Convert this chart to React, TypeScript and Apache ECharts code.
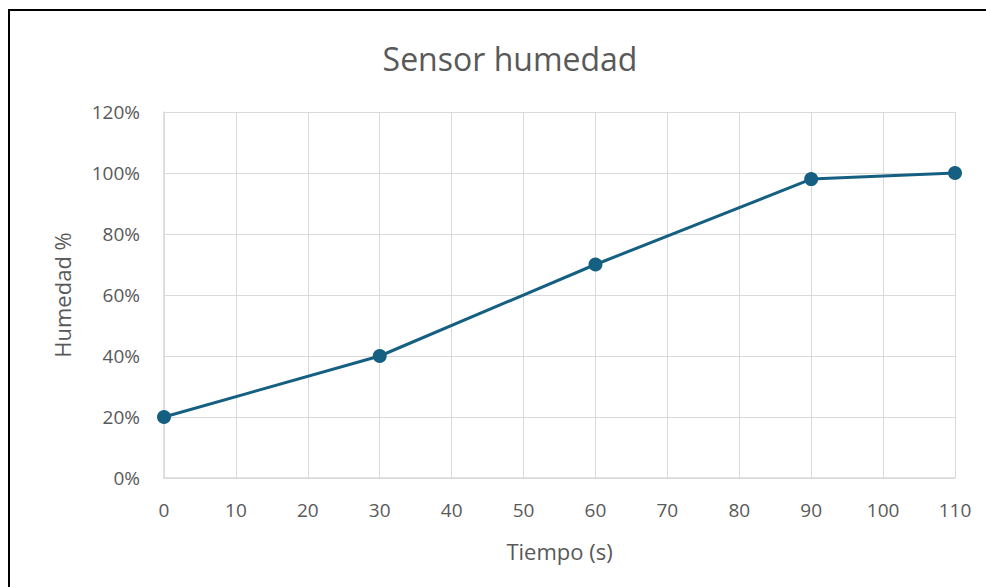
import React, { useEffect, useRef } from "react";
import * as echarts from "echarts";

const tiempo = [0, 30, 60, 90, 110];
const humedad = [20, 40, 70, 98, 100];
const xTicks = { min: 0, max: 110, interval: 10 };
const yTicks = { min: 0, max: 120, interval: 20 };

const FONT = "'Open Sans', 'Noto Sans', sans-serif";
const GREY = "#595959";

export default function App() {
  const ref = useRef<HTMLDivElement>(null);
  useEffect(() => {
    if (!ref.current) return;
    const chart = echarts.init(ref.current, undefined, { renderer: "svg" });
    chart.setOption({
      animation: false,
      backgroundColor: "#ffffff",
      title: {
        text: "Sensor humedad",
        left: 505,
        top: 37,
        textAlign: "center",
        textStyle: { fontFamily: FONT, fontSize: 32, fontWeight: "normal", color: GREY },
      },
      graphic: [
        {
          type: "rect",
          shape: { x: 9, y: 10, width: 1000, height: 600 },
          style: { fill: "none", stroke: "#000000", lineWidth: 2 },
          silent: true,
        },
      ],
      grid: { left: 164, right: 31, top: 112, bottom: 109, containLabel: false },
      xAxis: {
        type: "value",
        min: xTicks.min,
        max: xTicks.max,
        interval: xTicks.interval,
        name: "Tiempo (s)",
        nameLocation: "middle",
        nameGap: 62,
        nameTextStyle: { fontFamily: FONT, fontSize: 22, color: GREY },
        axisLine: { show: true, lineStyle: { color: "#d9d9d9", width: 1.5 } },
        axisTick: { show: false },
        axisLabel: { fontFamily: FONT, fontSize: 19, color: GREY, margin: 22 },
        splitLine: { show: true, lineStyle: { color: "#d9d9d9", width: 1 } },
      },
      yAxis: {
        type: "value",
        min: yTicks.min,
        max: yTicks.max,
        interval: yTicks.interval,
        name: "Humedad %",
        nameLocation: "middle",
        nameGap: 91,
        nameTextStyle: { fontFamily: FONT, fontSize: 22, color: GREY },
        axisLine: { show: true, lineStyle: { color: "#d9d9d9", width: 1.5 } },
        axisTick: { show: false },
        axisLabel: { fontFamily: FONT, fontSize: 19, color: GREY, margin: 24, formatter: "{value}%" },
        splitLine: { show: true, lineStyle: { color: "#d9d9d9", width: 1 } },
      },
      series: [
        {
          type: "line",
          data: tiempo.map((t, i) => [t, humedad[i]]),
          symbol: "circle",
          symbolSize: 14,
          lineStyle: { color: "#156082", width: 3 },
          itemStyle: { color: "#156082" },
        },
      ],
    });
    return () => chart.dispose();
  }, []);
  return (
    <div
      ref={ref}
      style={{ position: "absolute", left: 0, top: 0, width: 986, height: 587 }}
    />
  );
}
